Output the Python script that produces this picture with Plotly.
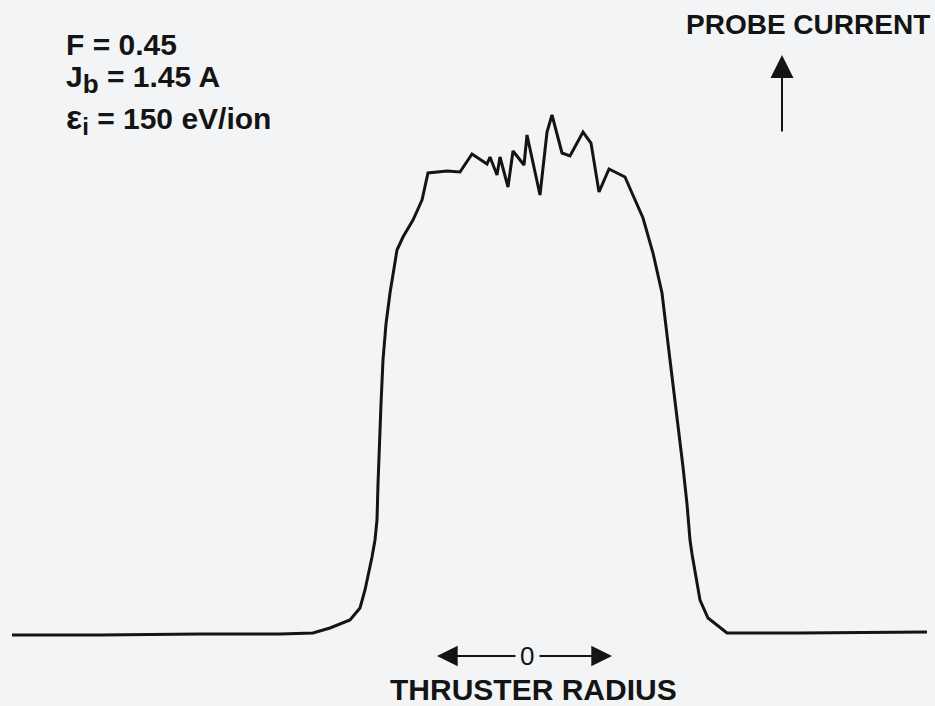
"""Probe current profile across thruster radius (scan recreation)."""

import plotly.graph_objects as go

W, H = 935, 706

# Traced profile, arbitrary units; radius 0 = thruster axis, current 0 = baseline
radius = [
    -515, -427, -327, -247, -214, -197, -177, -167, -162, -158, -155, -152, -150,
    -149, -148, -146, -144, -141, -137, -130, -124, -114, -105, -102, -99, -80,
    -67, -55, -40, -37, -30, -27, -19, -14, -3, 0, 13, 20, 25, 35, 43, 56, 64,
    72, 82, 86, 98, 105, 116, 126, 135, 143, 148, 156, 160, 163, 165, 168, 173,
    181, 193, 200, 273, 400,
]
current = [
    -1, -1, 0, 0, 1, 6, 14, 26, 44, 62, 77, 94, 114,
    150, 184, 230, 274, 310, 341, 384, 397, 414, 434, 449, 461, 463,
    462, 480, 470, 477, 459, 477, 447, 483, 469, 499, 439, 502, 519, 481, 478, 502, 491,
    442, 465, 463, 457, 441, 416, 381, 341, 274, 234, 167, 130, 94, 80, 61, 34,
    16, 6, 1, 1, 2,
]

params = [
    "F = 0.45",
    "J<sub><span style='font-size:26px'>b</span></sub> = 1.45 A",
    "<span style='font-size:34px'>ε</span><sub><span style='font-size:24px'>i</span></sub> = 150 eV/ion",
]

INK = "#141414"
BG = "#f3f4f6"
FONT = "Liberation Sans, Arial, sans-serif"


def px(x, y):
    """Pixel position -> paper coordinates."""
    return x / W, 1 - y / H


fig = go.Figure(
    go.Scatter(
        x=radius,
        y=current,
        mode="lines",
        line={"color": INK, "width": 3},
        hoverinfo="skip",
    )
)

annotations = []
for (label, ypix) in zip(params, [45, 79, 119]):
    x0, y0 = px(64, ypix)
    annotations.append(
        {
            "text": f"<b>{label}</b>",
            "x": x0, "y": y0, "xref": "paper", "yref": "paper",
            "xanchor": "left", "yanchor": "middle",
            "showarrow": False,
            "font": {"size": 30, "color": INK, "family": FONT},
        }
    )

x0, y0 = px(932, 24)
annotations.append(
    {
        "text": "<b>PROBE CURRENT</b>",
        "x": x0, "y": y0, "xref": "paper", "yref": "paper",
        "xanchor": "right", "yanchor": "middle", "showarrow": False,
        "font": {"size": 28, "color": INK, "family": FONT},
    }
)
# vertical arrow under PROBE CURRENT
x0, y0 = px(782, 55)
annotations.append(
    {
        "text": "", "x": x0, "y": y0, "xref": "paper", "yref": "paper",
        "ax": 0, "ay": 78, "showarrow": True,
        "arrowhead": 2, "arrowsize": 2.3, "arrowwidth": 2, "arrowcolor": INK,
    }
)

x0, y0 = px(527, 656)
annotations.append(
    {
        "text": "0", "x": x0, "y": y0, "xref": "paper", "yref": "paper",
        "xanchor": "center", "yanchor": "middle", "showarrow": False,
        "font": {"size": 26, "color": INK, "family": FONT},
    }
)
for head, dx in [(437, 80), (612, -74)]:
    x0, y0 = px(head, 656)
    annotations.append(
        {
            "text": "", "x": x0, "y": y0, "xref": "paper", "yref": "paper",
            "ax": dx, "ay": 0, "showarrow": True,
            "arrowhead": 2, "arrowsize": 2.3, "arrowwidth": 1.8, "arrowcolor": INK,
        }
    )

x0, y0 = px(533, 706)
annotations.append(
    {
        "text": "<b>THRUSTER RADIUS</b>",
        "x": x0, "y": y0, "xref": "paper", "yref": "paper",
        "xanchor": "center", "yanchor": "bottom", "yshift": -1, "showarrow": False,
        "borderpad": 0,
        "font": {"size": 30, "color": INK, "family": FONT},
    }
)

fig.update_layout(
    width=W,
    height=H,
    margin={"l": 0, "r": 0, "t": 0, "b": 0},
    paper_bgcolor=BG,
    plot_bgcolor=BG,
    showlegend=False,
    xaxis={"range": [-527, W - 527], "visible": False, "fixedrange": True},
    yaxis={"range": [634 - H, 634], "visible": False, "fixedrange": True},
    annotations=annotations,
)

fig.write_html(
    "out.html",
    config={"displayModeBar": False},
    post_script="document.body.style.margin='0';document.body.style.overflow='hidden';",
)
